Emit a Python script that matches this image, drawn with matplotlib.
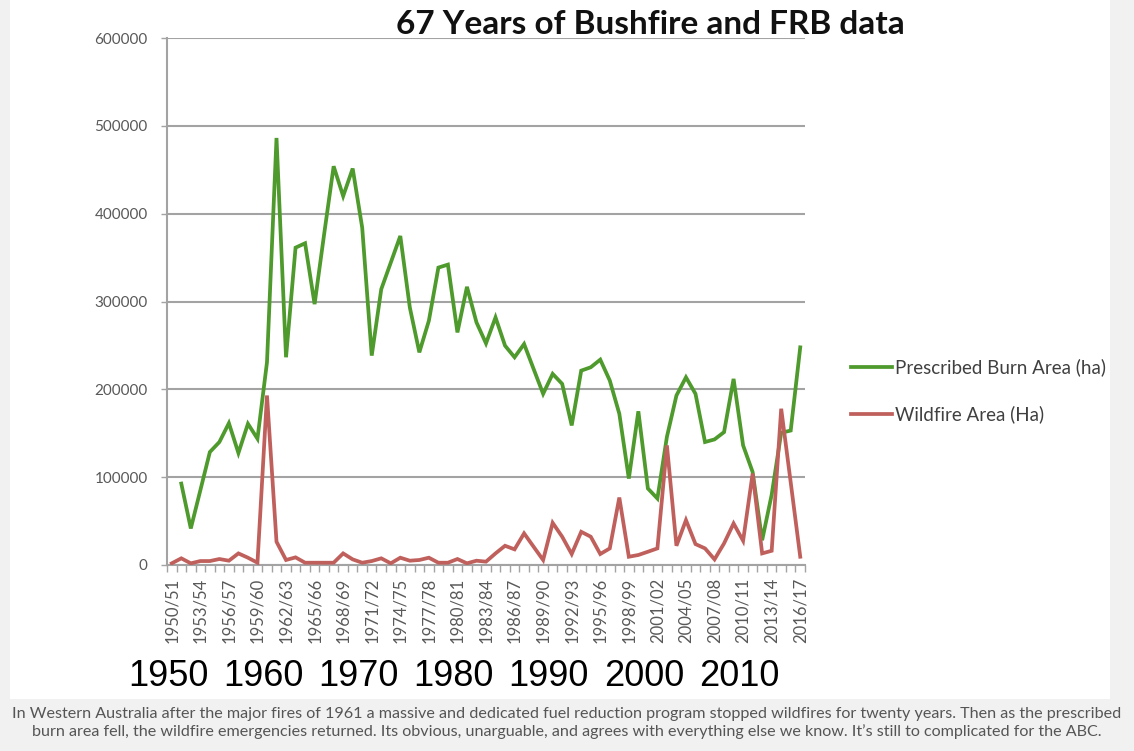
import matplotlib
matplotlib.use("Agg")
import matplotlib.pyplot as plt
import matplotlib.transforms as mtransforms
from matplotlib.patches import Rectangle
import numpy as np

# ---------------- data ----------------
years = [f"{y}/{str(y + 1)[-2:]}" for y in range(1950, 2017)]

prescribed_burn = [
    None, 92700, 41600, 85000, 128600, 140000, 161500, 127500, 160800, 143800,
    230800, 486200, 236500, 361300, 366300, 297000, 376500, 454000, 420000, 451400,
    384000, 238400, 314000, 344300, 374600, 293200, 242100, 278100, 338600, 342000,
    264800, 316700, 276200, 252300, 281900, 249700, 236500, 251600, 223200, 194900,
    217600, 206200, 158900, 221300, 225100, 233800, 210000, 172200, 98400, 175000,
    87100, 75700, 146000, 193000, 213700, 194900, 140000, 143000, 151300, 211900,
    136200, 105900, 28200, 80000, 150500, 153100, 247800,
]

wildfire = [
    1900, 7600, 1900, 4500, 4500, 6800, 4900, 13200, 8300, 2600,
    193000, 26500, 5700, 8700, 2600, 2600, 2600, 2600, 13200, 6400,
    2600, 4500, 7600, 1900, 8300, 4900, 5700, 8300, 2600, 2600,
    6800, 1900, 4900, 3800, 13200, 21900, 17800, 36000, 20800, 5700,
    48000, 32200, 12500, 37800, 32200, 12500, 18900, 76800, 9400, 11400,
    15100, 18900, 136200, 21900, 51100, 23800, 18900, 6400, 24600, 47300,
    27600, 104100, 13200, 16200, 177900, 94000, 9400,
]

series_names = ["Prescribed Burn Area (ha)", "Wildfire Area (Ha)"]
y_ticks = [0, 100000, 200000, 300000, 400000, 500000, 600000]
decade_labels = ["1950", "1960", "1970", "1980", "1990", "2000", "2010"]
title = "67 Years of Bushfire and FRB data"
caption = ("In Western Australia after the major fires of 1961 a massive and dedicated fuel reduction program "
           "stopped wildfires for twenty years. Then as the prescribed\n"
           "burn area fell, the wildfire emergencies returned. Its obvious, unarguable, and agrees with "
           "everything else we know. It\u2019s still to complicated for the ABC.")

# ---------------- style ----------------
GREEN = "#4e9a2c"
RED = "#c0605c"
GRID = "#a3a3a3"
TXT = "#595959"
FONT = "Lato"

W, H = 1134, 751
fig = plt.figure(figsize=(W / 100, H / 100), dpi=100, facecolor="#f1f1f1")

# white panel
fig.patches.append(Rectangle((10 / W, 1 - 699 / H), (1110 - 10) / W, 699 / H,
                             transform=fig.transFigure, facecolor="white",
                             edgecolor="none", zorder=-5))

ax = fig.add_axes([167 / W, 1 - 565 / H, (805 - 167) / W, (565 - 38) / H])
ax.set_zorder(2)
ax.set_facecolor("white")

x = np.arange(len(years))
pb = np.array([np.nan if v is None else v for v in prescribed_burn], dtype=float)
wf = np.array(wildfire, dtype=float)

l1, = ax.plot(x, pb, color=GREEN, lw=2.7, solid_joinstyle="miter", zorder=3,
              label=series_names[0])
l2, = ax.plot(x, wf, color=RED, lw=2.7, solid_joinstyle="miter", zorder=4,
              label=series_names[1])

ax.set_xlim(-0.5, len(years) - 0.5)
ax.set_ylim(0, 600000)

# y axis
ax.set_yticks(y_ticks)
ax.set_yticklabels([str(v) for v in y_ticks], fontsize=11, color=TXT, family=FONT)
ax.tick_params(axis="y", length=4, width=1, color=GRID, pad=10)
ax.yaxis.grid(True, color=GRID, lw=1.5)
ax.set_axisbelow(True)

# x axis
major = x[::3]
ax.set_xticks(major)
ax.set_xticklabels([years[i] for i in major], rotation=90, fontsize=12,
                   color=TXT, family=FONT, va="top")
ax.set_xticks(np.arange(-0.5, len(years), 1.0), minor=True)
ax.tick_params(axis="x", which="major", length=0, pad=9)
ax.tick_params(axis="x", which="minor", length=5, width=1, color=GRID)

for s in ["top", "right"]:
    ax.spines[s].set_visible(False)
for s in ["left", "bottom"]:
    ax.spines[s].set_color(GRID)
    ax.spines[s].set_linewidth(1.5)

# title
fig.text(650 / W, 1 - 24 / H, title, ha="center", va="center", fontsize=24,
         fontweight="bold", family=FONT, color="#111111")

# legend
leg = fig.legend(handles=[l1, l2], loc="center left",
                 bbox_to_anchor=(843 / W, 1 - 391 / H), frameon=False,
                 prop={"family": FONT, "size": 13.5}, handlelength=2.2,
                 handletextpad=0.15, labelspacing=1.55, borderaxespad=0)
for t in leg.get_texts():
    t.set_color("#404040")

# decade labels under the axis
trans = mtransforms.blended_transform_factory(ax.transData, fig.transFigure)
for k, lab in enumerate(decade_labels):
    ax.text(k * 10 - 0.4, 1 - 677 / H, lab, transform=trans, ha="center", va="center",
            fontsize=26, family="Liberation Sans", color="black", clip_on=False)

# caption
fig.text(567 / W, 1 - 723 / H, caption, ha="center", va="center", fontsize=11.6,
         family=FONT, color="#555555", linespacing=1.2)

fig.savefig("out.png", dpi=100, facecolor=fig.get_facecolor())
